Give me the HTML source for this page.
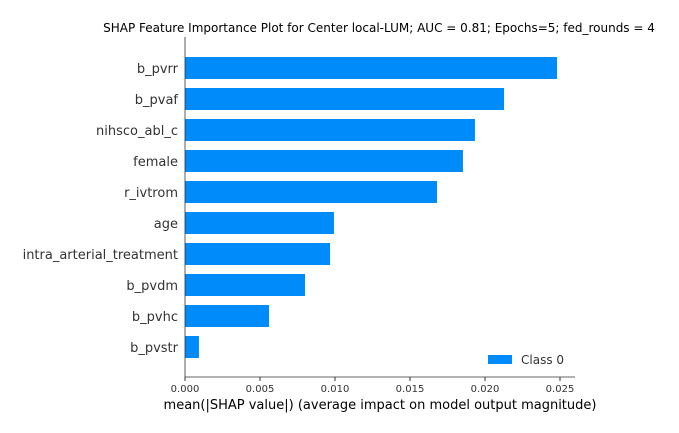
<!DOCTYPE html>
<html><head><meta charset="utf-8"><style>
body{margin:0;background:#fff;}
svg{display:block;font-family:"DejaVu Sans","Liberation Sans",sans-serif;}
</style></head><body>
<svg id="chart" width="679" height="433">
<text x="379" y="32" font-size="12" text-anchor="middle" fill="#000">SHAP Feature Importance Plot for Center local-LUM; AUC = 0.81; Epochs=5; fed_rounds = 4</text>
<g id="bars"></g>
<g id="xaxis"></g>
<line x1="185" y1="37" x2="185" y2="377" stroke="#333" stroke-width="0.8"/>
<line x1="185" y1="377" x2="575" y2="377" stroke="#333" stroke-width="0.8"/>
<text x="380" y="409" font-size="13" text-anchor="middle" fill="#000">mean(|SHAP value|) (average impact on model output magnitude)</text>
<g>
<rect x="488" y="355" width="24" height="9" fill="#008bfb"/>
<text x="521" y="364" font-size="12" fill="#333">Class 0</text>
</g>
</svg>
<script>
const features=["b_pvrr","b_pvaf","nihsco_abl_c","female","r_ivtrom","age","intra_arterial_treatment","b_pvdm","b_pvhc","b_pvstr"];
const values=[0.0248,0.02127,0.01933,0.01853,0.0168,0.00993,0.00967,0.008,0.0056,0.00093];
const ticks=[0,0.005,0.01,0.015,0.02,0.025];
const tickLabels=["0.000","0.005","0.010","0.015","0.020","0.025"];
const NS="http://www.w3.org/2000/svg";
const x=v=>185+v*15000;
const y=i=>68+i*31;
const bars=document.getElementById('bars');
features.forEach((f,i)=>{
  const r=document.createElementNS(NS,'rect');
  r.setAttribute('x',185);r.setAttribute('y',y(i)-11);
  r.setAttribute('width',x(values[i])-185);r.setAttribute('height',22);
  r.setAttribute('fill','#008bfb');
  
  
  bars.appendChild(r);
  const t=document.createElementNS(NS,'text');
  t.setAttribute('x',178);t.setAttribute('y',y(i)+5);
  t.setAttribute('text-anchor','end');t.setAttribute('font-size','13');t.setAttribute('fill','#333');
  t.textContent=f;
  
  
  bars.appendChild(t);
});
const xa=document.getElementById('xaxis');
ticks.forEach((v,i)=>{
  const l=document.createElementNS(NS,'line');
  l.setAttribute('x1',x(v));l.setAttribute('x2',x(v));l.setAttribute('y1',377);l.setAttribute('y2',381);
  l.setAttribute('stroke','#333');
  
  
  xa.appendChild(l);
  const t=document.createElementNS(NS,'text');
  t.setAttribute('x',x(v));t.setAttribute('y',392);t.setAttribute('text-anchor','middle');
  t.setAttribute('font-size','10');t.setAttribute('fill','#333');
  t.textContent=tickLabels[i];
  
  
  xa.appendChild(t);
});
</script>
</body></html>
